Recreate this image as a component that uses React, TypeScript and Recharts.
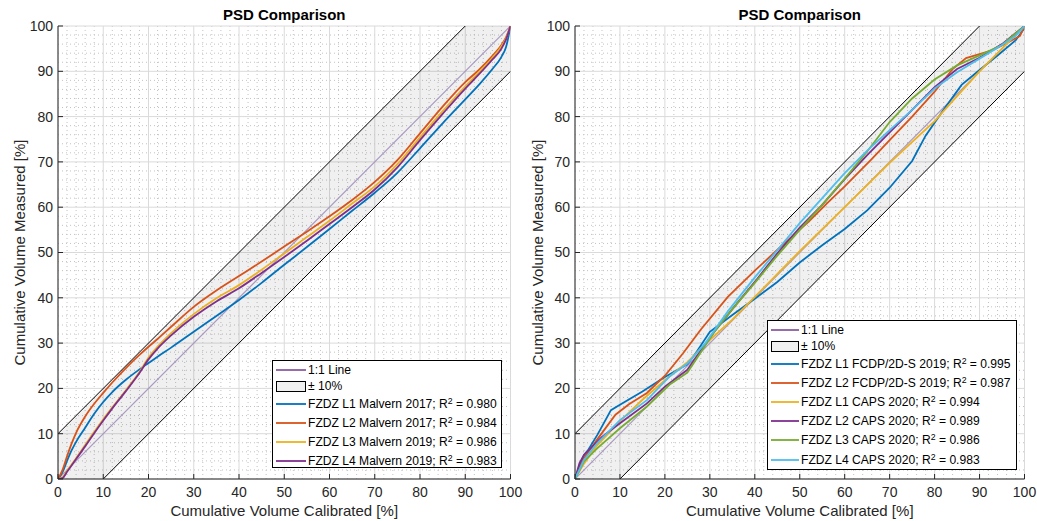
import React from 'react';
import { ComposedChart, Line, Area, XAxis, YAxis, CartesianGrid, Legend, Customized } from 'recharts';

const FONT = '"Liberation Sans", Arial, Helvetica, sans-serif';
const TEXT = '#262626';

const majorTicks = [0, 10, 20, 30, 40, 50, 60, 70, 80, 90, 100];
const minorTicks = [2, 4, 6, 8, 12, 14, 16, 18, 22, 24, 26, 28, 32, 34, 36, 38, 42, 44, 46, 48, 52, 54, 56, 58, 62, 64, 66, 68, 72, 74, 76, 78, 82, 84, 86, 88, 92, 94, 96, 98];

// ±10% band and reference lines
const bandX = [0, 10, 90, 100];
const bandLo = [0, 0, 80, 90];
const bandHi = [10, 20, 100, 100];
const upperEdgeX = [0, 90];
const upperEdgeY = [10, 100];
const lowerEdgeX = [10, 100];
const lowerEdgeY = [0, 90];
const oneToOneX = [0, 100];
const oneToOneY = [0, 100];

// Left panel (Malvern)
const leftX = [0, 1, 2, 3, 4, 6, 8, 10, 12, 15, 18, 20, 22, 25, 30, 35, 40, 45, 50, 55, 60, 65, 70, 75, 80, 85, 90, 93, 96, 98, 99, 100];
const malvernL1_2017 = [0, 1.5, 4, 6.3, 8.2, 11.3, 14.4, 17, 19.2, 21.9, 24.2, 25.6, 27, 29, 32.5, 36, 39.5, 43.3, 47.3, 51.2, 55.2, 59.2, 63.2, 67.6, 73, 78.5, 83.8, 87, 90.5, 93.2, 95.3, 100];
const malvernL2_2017 = [0, 2, 5, 7.8, 10.2, 13.8, 16.6, 19, 21.3, 24.5, 27.4, 29.2, 30.9, 33.6, 38, 41.6, 44.8, 48, 51.3, 54.6, 58, 61.6, 65.6, 70.4, 76.3, 82.2, 87.6, 90.3, 93.4, 95.8, 97.5, 100];
const malvernL3_2019 = [0, 0.3, 1.8, 3.2, 4.6, 7.5, 10.4, 13.2, 15.8, 19.6, 23.6, 26.8, 29.2, 32.2, 36.4, 39.9, 42.8, 46.2, 49.8, 53.4, 57, 60.8, 64.6, 69.5, 75.4, 81.2, 86.7, 89.8, 93, 95.5, 97.2, 100];
const malvernL4_2019 = [0, 0.2, 1.6, 3, 4.4, 7.2, 10.1, 12.9, 15.6, 19.4, 23.4, 26.4, 28.8, 31.7, 35.8, 39.2, 42.1, 45.5, 49, 52.6, 56.3, 60, 63.9, 68.8, 74.8, 80.6, 86.2, 89.3, 92.6, 95, 97, 100];

// Right panel (FCDP/2D-S and CAPS)
const fcdpL1X = [0, 1, 2, 3, 5, 8, 10, 15, 20, 25, 27, 30, 35, 40, 45, 50, 55, 60, 65, 70, 75, 78, 82, 86, 90, 94, 98, 100];
const fcdpL1Y = [0, 3, 5.3, 6.5, 9.8, 15.2, 16.4, 19.3, 22.5, 25.3, 28, 32.5, 36.2, 39.8, 43.5, 47.8, 51.6, 55.2, 59.3, 64.3, 70.2, 75.8, 81.5, 87, 90.3, 93.5, 96.8, 99.5];
const fcdpL2X = [0, 2, 5, 9, 12, 16, 20, 24, 28, 34, 40, 46, 52, 56, 60, 66, 70, 75, 80, 84, 87, 93, 96, 99, 100];
const fcdpL2Y = [0, 4.6, 8.8, 14.2, 16.5, 19, 22.8, 27.7, 33, 40.2, 46, 51.5, 56.8, 60.8, 64.6, 70.6, 74.8, 80, 85.5, 90.5, 92.9, 94.7, 96.2, 97.8, 100];
const capsL1X = [0, 2, 5, 10, 15, 20, 25, 29, 35, 40, 50, 60, 70, 80, 85, 90, 95, 100];
const capsL1Y = [0, 3.4, 7.5, 12.8, 17.5, 21.8, 25.8, 29.8, 35.2, 40.2, 50.3, 60, 69.8, 79, 84.5, 90, 95, 100];
const capsL2X = [0, 1, 2, 6, 10, 16, 20, 25, 27, 31, 35, 40, 45, 50, 55, 60, 65, 70, 75, 80, 85, 90, 95, 100];
const capsL2Y = [0, 3.5, 5.3, 9.3, 12.3, 16.7, 20.4, 24.1, 27, 32.5, 37.5, 43.5, 49.8, 55.5, 60.5, 66.2, 71.5, 76.5, 81.5, 86.5, 90.5, 93, 96, 100];
const capsL3X = [0, 2, 5, 10, 16, 21, 25, 27, 31, 35, 40, 45, 50, 55, 60, 65, 70, 75, 80, 85, 90, 95, 100];
const capsL3Y = [0, 3.9, 6.8, 11.2, 16, 20.8, 23.5, 26.5, 32.5, 37.5, 43.3, 49.3, 55, 60.5, 66.3, 72.3, 78.8, 84, 88.2, 91.3, 93.5, 95.8, 100];
const capsL4X = [0, 2, 5, 10, 16, 21, 25, 29, 34, 40, 45, 50, 55, 60, 65, 70, 75, 80, 85, 90, 95, 98, 100];
const capsL4Y = [0, 4.2, 8, 13, 17.4, 22.6, 25.5, 30, 37, 44.5, 50.5, 56.5, 62, 67.5, 72.5, 77, 81.5, 86.2, 89.8, 92.8, 95.8, 97.8, 100];

const C = {
  blue: '#0072BD',
  orange: '#D95319',
  yellow: '#EDB120',
  purple: '#7E2F8E',
  green: '#77AC30',
  cyan: '#4DBEEE',
};

const zip = (xs: number[], ys: number[]) => xs.map((x, i) => ({ x, y: ys[i] }));
const bandData = bandX.map((x, i) => ({ x, range: [bandLo[i], bandHi[i]] }));

type Series = { name: string; r2: string; color: string; xs: number[]; ys: number[] };

const leftSeries: Series[] = [
  { name: 'FZDZ L1 Malvern 2017', r2: '0.980', color: C.blue, xs: leftX, ys: malvernL1_2017 },
  { name: 'FZDZ L2 Malvern 2017', r2: '0.984', color: C.orange, xs: leftX, ys: malvernL2_2017 },
  { name: 'FZDZ L3 Malvern 2019', r2: '0.986', color: C.yellow, xs: leftX, ys: malvernL3_2019 },
  { name: 'FZDZ L4 Malvern 2019', r2: '0.983', color: C.purple, xs: leftX, ys: malvernL4_2019 },
];

const rightSeries: Series[] = [
  { name: 'FZDZ L1 FCDP/2D-S 2019', r2: '0.995', color: C.blue, xs: fcdpL1X, ys: fcdpL1Y },
  { name: 'FZDZ L2 FCDP/2D-S 2019', r2: '0.987', color: C.orange, xs: fcdpL2X, ys: fcdpL2Y },
  { name: 'FZDZ L1 CAPS 2020', r2: '0.994', color: C.yellow, xs: capsL1X, ys: capsL1Y },
  { name: 'FZDZ L2 CAPS 2020', r2: '0.989', color: C.purple, xs: capsL2X, ys: capsL2Y },
  { name: 'FZDZ L3 CAPS 2020', r2: '0.986', color: C.green, xs: capsL3X, ys: capsL3Y },
  { name: 'FZDZ L4 CAPS 2020', r2: '0.983', color: C.cyan, xs: capsL4X, ys: capsL4Y },
];

function Sample({ w, color, width }: { w: number; color: string; width: number }) {
  return (
    <svg width={w} height={6} style={{ position: 'absolute', left: 3, top: '50%', marginTop: -3, overflow: 'visible' }}>
      <line x1={0} y1={3} x2={w} y2={3} stroke={color} strokeWidth={width} />
    </svg>
  );
}

function LegendBox({ series, sampleW, textLeft }: { series: Series[]; sampleW: number; textLeft: number }) {
  const row = (h: number): React.CSSProperties => ({
    display: 'flex', alignItems: 'center', height: h, position: 'relative',
  });
  const txt: React.CSSProperties = { position: 'absolute', left: textLeft, whiteSpace: 'nowrap' };
  return (
    <div style={{
      boxSizing: 'border-box', width: '100%', height: '100%', background: '#fff',
      border: '1px solid #000', fontFamily: FONT, fontSize: 12.1, color: '#000', paddingTop: 1,
    }}>
      <div style={row(16)}>
        <Sample w={sampleW} color="#6b2d86" width={1.4} />
        <span style={txt}>1:1 Line</span>
      </div>
      <div style={row(16)}>
        <div style={{ position: 'absolute', left: 3, top: 2.5, boxSizing: 'border-box', width: sampleW, height: 11, background: '#f0f0f0', border: '1.3px solid #000' }} />
        <span style={txt}>± 10%</span>
      </div>
      {series.map((s) => (
        <div key={s.name} style={row(19.2)}>
          <Sample w={sampleW} color={s.color} width={1.8} />
          <span style={txt}>
            {s.name}; R<sup style={{ fontSize: '0.72em', verticalAlign: '0.5em', lineHeight: 0 }}>2</sup> = {s.r2}
          </span>
        </div>
      ))}
    </div>
  );
}

type PanelProps = {
  width: number;
  plotRightPx: number;
  margin: { top: number; right: number; bottom: number; left: number };
  series: Series[];
  lineType: 'monotone' | 'linear';
  legend: { left: number; top: number; width: number; height: number; sampleW: number; textLeft: number };
};

function Panel({ width, margin, series, lineType, legend }: PanelProps) {
  const plotLeft = margin.left + 40;
  const plotRight = width - margin.right;
  const cx = (plotLeft + plotRight) / 2;
  const axisStroke = { stroke: TEXT, strokeWidth: 1 };
  return (
    <ComposedChart width={width} height={521} margin={margin}>
      <CartesianGrid verticalValues={minorTicks} horizontalValues={minorTicks} stroke="#c2c2c2" strokeDasharray="1 3" />
      <CartesianGrid verticalValues={majorTicks} horizontalValues={majorTicks} stroke="#dadada" />
      <XAxis type="number" dataKey="x" domain={[0, 100]} ticks={majorTicks} interval={0} allowDataOverflow
        height={42} tickSize={-5} tickMargin={13} axisLine={axisStroke} tickLine={axisStroke}
        tick={{ fill: TEXT, fontSize: 14, fontFamily: FONT }} />
      <XAxis xAxisId="top" orientation="top" type="number" domain={[0, 100]} ticks={majorTicks} interval={0}
        height={0} tickSize={-5} tick={false} axisLine={axisStroke} tickLine={axisStroke} />
      <YAxis type="number" dataKey="y" domain={[0, 100]} ticks={majorTicks} interval={0} allowDataOverflow
        width={40} tickSize={-5} tickMargin={10} axisLine={axisStroke} tickLine={axisStroke}
        tick={{ fill: TEXT, fontSize: 14, fontFamily: FONT }} />
      <YAxis yAxisId="right" orientation="right" type="number" domain={[0, 100]} ticks={majorTicks} interval={0}
        width={0} tickSize={-5} tick={false} axisLine={axisStroke} tickLine={axisStroke} />
      <Area data={bandData} dataKey="range" type="linear" stroke="none" fill="#000" fillOpacity={0.06}
        isAnimationActive={false} activeDot={false} />
      <Line data={zip(oneToOneX, oneToOneY)} dataKey="y" type="linear" stroke="#a998c0" strokeWidth={1.2}
        dot={false} activeDot={false} isAnimationActive={false} />
      {series.map((s) => (
        <Line key={s.name} data={zip(s.xs, s.ys)} dataKey="y" name={s.name} type={lineType} stroke={s.color}
          strokeWidth={1.8} dot={false} activeDot={false} isAnimationActive={false} />
      ))}
      <Line data={zip(upperEdgeX, upperEdgeY)} dataKey="y" type="linear" stroke="#000" strokeWidth={1}
        dot={false} activeDot={false} isAnimationActive={false} />
      <Line data={zip(lowerEdgeX, lowerEdgeY)} dataKey="y" type="linear" stroke="#000" strokeWidth={1}
        dot={false} activeDot={false} isAnimationActive={false} />
      <Legend layout="vertical" align="center" verticalAlign="middle"
        wrapperStyle={{ left: legend.left, top: legend.top, width: legend.width, height: legend.height, right: 'auto', bottom: 'auto' }}
        content={() => <LegendBox series={series} sampleW={legend.sampleW} textLeft={legend.textLeft} />} />
      <Customized component={() => (
        <g fontFamily={FONT}>
          <text x={cx} y={20} textAnchor="middle" fontWeight="bold" fontSize={15} fill="#000">PSD Comparison</text>
          <text x={cx} y={516} textAnchor="middle" fontSize={15} fill={TEXT}>Cumulative Volume Calibrated [%]</text>
          <text transform={`translate(24.5, 252.5) rotate(-90)`} textAnchor="middle" fontSize={15} fill={TEXT}>Cumulative Volume Measured [%]</text>
        </g>
      )} />
    </ComposedChart>
  );
}

export default function App() {
  return (
    <div style={{ position: 'absolute', left: 0, top: 0, width: 1037, height: 521, background: '#fff' }}>
      <div style={{ position: 'absolute', left: 0, top: 0 }}>
        <Panel width={532} plotRightPx={510.5} margin={{ top: 26, right: 21.5, bottom: 0, left: 18 }} series={leftSeries} lineType="monotone"
          legend={{ left: 272, top: 360, width: 230, height: 108, sampleW: 30, textLeft: 35 }} />
      </div>
      <div style={{ position: 'absolute', left: 518, top: 0 }}>
        <Panel width={519} plotRightPx={1024.5} margin={{ top: 26, right: 12.5, bottom: 0, left: 17 }} series={rightSeries} lineType="linear"
          legend={{ left: 249, top: 320, width: 250, height: 150, sampleW: 28, textLeft: 33 }} />
      </div>
    </div>
  );
}
